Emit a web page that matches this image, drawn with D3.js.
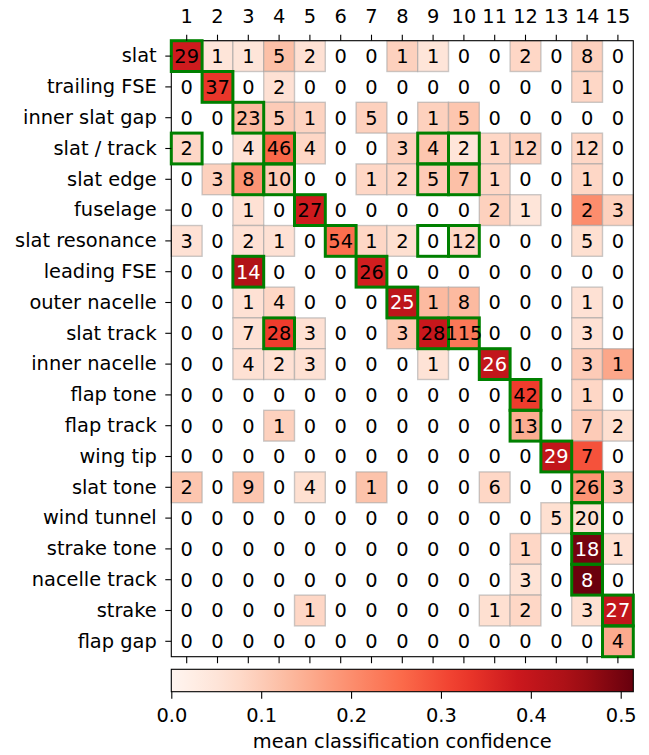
<!DOCTYPE html>
<html>
<head>
<meta charset="utf-8">
<script src="https://cdn.jsdelivr.net/npm/d3@7"></script>
<style>
  body { margin: 0; background: #fff; }
  svg { display: block; font-family: "DejaVu Sans", sans-serif; }
</style>
</head>
<body>
<svg id="chart" width="649" height="755"></svg>
<script>
var rowLabels = ["slat", "trailing FSE", "inner slat gap", "slat / track", "slat edge", "fuselage",
  "slat resonance", "leading FSE", "outer nacelle", "slat track", "inner nacelle", "flap tone",
  "flap track", "wing tip", "slat tone", "wind tunnel", "strake tone", "nacelle track", "strake", "flap gap"];
var colLabels = ["1","2","3","4","5","6","7","8","9","10","11","12","13","14","15"];

// counts shown in each cell
var counts = [
  [29,1,1,5,2,0,0,1,1,0,0,2,0,8,0],
  [0,37,0,2,0,0,0,0,0,0,0,0,0,1,0],
  [0,0,23,5,1,0,5,0,1,5,0,0,0,0,0],
  [2,0,4,46,4,0,0,3,4,2,1,12,0,12,0],
  [0,3,8,10,0,0,1,2,5,7,1,0,0,1,0],
  [0,0,1,0,27,0,0,0,0,0,2,1,0,2,3],
  [3,0,2,1,0,54,1,2,0,12,0,0,0,5,0],
  [0,0,14,0,0,0,26,0,0,0,0,0,0,0,0],
  [0,0,1,4,0,0,0,25,1,8,0,0,0,1,0],
  [0,0,7,28,3,0,0,3,28,115,0,0,0,3,0],
  [0,0,4,2,3,0,0,0,1,0,26,0,0,3,1],
  [0,0,0,0,0,0,0,0,0,0,0,42,0,1,0],
  [0,0,0,1,0,0,0,0,0,0,0,13,0,7,2],
  [0,0,0,0,0,0,0,0,0,0,0,0,29,7,0],
  [2,0,9,0,4,0,1,0,0,0,6,0,0,26,3],
  [0,0,0,0,0,0,0,0,0,0,0,0,5,20,0],
  [0,0,0,0,0,0,0,0,0,0,0,1,0,18,1],
  [0,0,0,0,0,0,0,0,0,0,0,3,0,8,0],
  [0,0,0,0,1,0,0,0,0,0,1,2,0,3,27],
  [0,0,0,0,0,0,0,0,0,0,0,0,0,0,4]
];

// mean classification confidence (colour)
var conf = [
  [0.38,0.05,0.05,0.12,0.06,0,0,0.09,0.05,0,0,0.08,0,0.09,0],
  [0,0.33,0,0.06,0,0,0,0,0,0,0,0,0,0.08,0],
  [0,0,0.13,0.10,0.085,0,0.09,0,0.09,0.11,0,0,0,0,0],
  [0.08,0,0.06,0.26,0.08,0,0,0.09,0.11,0.05,0.08,0.09,0,0.08,0],
  [0,0.09,0.19,0.10,0,0,0.08,0.08,0.10,0.12,0.08,0,0,0.08,0],
  [0,0,0.06,0,0.38,0,0,0,0,0,0.09,0.05,0,0.20,0.09],
  [0.06,0,0.06,0.06,0,0.25,0.08,0.065,0,0.08,0,0,0,0.065,0],
  [0,0,0.43,0,0,0,0.375,0,0,0,0,0,0,0,0],
  [0,0,0.06,0.08,0,0,0,0.41,0.13,0.13,0,0,0,0.06,0],
  [0,0,0.06,0.32,0.06,0,0,0.105,0.39,0.235,0,0,0,0.06,0],
  [0,0,0.06,0.06,0.06,0,0,0,0.055,0,0.40,0,0,0.10,0.16],
  [0,0,0,0,0,0,0,0,0,0,0,0.32,0,0.08,0],
  [0,0,0,0.09,0,0,0,0,0,0,0,0.15,0,0.10,0.065],
  [0,0,0,0,0,0,0,0,0,0,0,0,0.40,0.29,0],
  [0.11,0,0.11,0,0.065,0,0.115,0,0,0,0.08,0,0,0.19,0.10],
  [0,0,0,0,0,0,0,0,0,0,0,0,0.065,0.065,0],
  [0,0,0,0,0,0,0,0,0,0,0,0.08,0,0.50,0.06],
  [0,0,0,0,0,0,0,0,0,0,0,0.055,0,0.51,0],
  [0,0,0,0,0.08,0,0,0,0,0,0.065,0.08,0,0.065,0.40],
  [0,0,0,0,0,0,0,0,0,0,0,0,0,0,0.155]
];

// highlighted cells [row, col] (0-based)
var highlights = [
  [0,0],[1,1],[2,2],[3,0],[3,3],[3,8],[3,9],[4,2],[4,3],[4,8],[4,9],
  [5,4],[6,5],[6,8],[6,9],[7,2],[7,6],[8,7],[9,3],[9,8],[9,9],[10,10],
  [11,11],[12,11],[13,12],[14,13],[15,13],[16,13],[17,13],[18,14],[19,14]
];

var cbTicks = [0, 0.1, 0.2, 0.3, 0.4, 0.5];
var confMax = 0.514;

var svg = d3.select("#chart");
var fs = "19.4px";

var margin = {left: 171.3, top: 40.7};
var cell = 30.8;
var W = cell * colLabels.length, H = cell * rowLabels.length;

var x = d3.scaleBand().domain(d3.range(colLabels.length)).range([margin.left, margin.left + W]);
var y = d3.scaleBand().domain(d3.range(rowLabels.length)).range([margin.top, margin.top + H]);

var redsStops = ["#fff5f0","#fee0d2","#fcbba1","#fc9272","#fb6a4a","#ef3b2c","#cb181d","#a50f15","#67000d"];
var reds = d3.piecewise(d3.interpolateRgb, redsStops);
var color = d3.scaleSequential(reds).domain([0, confMax]);

var cells = [];
counts.forEach(function(row, i) {
  row.forEach(function(c, j) {
    cells.push({r: i, c: j, n: c, v: conf[i][j]});
  });
});

// coloured cells (zero counts stay white)
svg.append("g")
  .selectAll("rect")
  .data(cells.filter(function(d) { return d.n > 0; }))
  .enter().append("rect")
  .attr("x", function(d) { return x(d.c); })
  .attr("y", function(d) { return y(d.r); })
  .attr("width", x.bandwidth())
  .attr("height", y.bandwidth())
  .attr("fill", function(d) { return color(d.v); })
  .attr("stroke", "#a0a0a0")
  .attr("stroke-opacity", 0.55)
  .attr("stroke-width", 1.4);

// frame
svg.append("rect")
  .attr("x", margin.left).attr("y", margin.top)
  .attr("width", W).attr("height", H)
  .attr("fill", "none").attr("stroke", "#000").attr("stroke-width", 1.1);

// green boxes
svg.append("g")
  .selectAll("rect")
  .data(highlights)
  .enter().append("rect")
  .attr("x", function(d) { return x(d[1]); })
  .attr("y", function(d) { return y(d[0]); })
  .attr("width", x.bandwidth())
  .attr("height", y.bandwidth())
  .attr("fill", "none")
  .attr("stroke", "#008000")
  .attr("stroke-width", 3);

// numbers
svg.append("g")
  .selectAll("text")
  .data(cells)
  .enter().append("text")
  .attr("x", function(d) { return x(d.c) + x.bandwidth() / 2; })
  .attr("y", function(d) { return y(d.r) + y.bandwidth() / 2; })
  .attr("dy", "0.36em")
  .attr("text-anchor", "middle")
  .attr("font-size", fs)
  .attr("fill", function(d) { return d.v > 0.395 ? "#fff" : "#000"; })
  .text(function(d) { return d.n; });

// axes
var xTop = svg.append("g")
  .attr("transform", "translate(0," + margin.top + ")")
  .call(d3.axisTop(x).tickSize(6).tickPadding(11.4).tickFormat(function(i) { return colLabels[i]; }));
var xBot = svg.append("g")
  .attr("transform", "translate(0," + (margin.top + H) + ")")
  .call(d3.axisBottom(x).tickSize(6.5).tickFormat(""));
var yLeft = svg.append("g")
  .attr("transform", "translate(" + margin.left + ",0)")
  .call(d3.axisLeft(y).tickSize(6).tickPadding(8.6).tickFormat(function(i) { return rowLabels[i]; }));

[xTop, xBot, yLeft].forEach(function(g) {
  g.select(".domain").remove();
  g.selectAll(".tick line").attr("stroke", "#000").attr("stroke-width", 1.1);
  g.selectAll(".tick text").attr("font-size", fs).attr("font-family", "DejaVu Sans").attr("fill", "#000");
});

// colorbar
var cbY = 669.3, cbH = 22.4;
var cbScale = d3.scaleLinear().domain([0, confMax]).range([margin.left, margin.left + W]);

var grad = svg.append("defs").append("linearGradient")
  .attr("id", "cbgrad").attr("x1", "0%").attr("x2", "100%");
grad.selectAll("stop")
  .data(d3.range(0, 1.0001, 0.05))
  .enter().append("stop")
  .attr("offset", function(t) { return (t * 100) + "%"; })
  .attr("stop-color", function(t) { return reds(t); });

svg.append("rect")
  .attr("x", margin.left).attr("y", cbY)
  .attr("width", W).attr("height", cbH)
  .attr("fill", "url(#cbgrad)")
  .attr("stroke", "#000").attr("stroke-width", 1.1);

var cbAxis = svg.append("g")
  .attr("transform", "translate(0," + (cbY + cbH) + ")")
  .call(d3.axisBottom(cbScale).tickValues(cbTicks).tickSize(7).tickPadding(10).tickFormat(d3.format(".1f")));
cbAxis.select(".domain").remove();
cbAxis.selectAll(".tick line").attr("stroke", "#000").attr("stroke-width", 1.1);
cbAxis.selectAll(".tick text").attr("font-size", fs).attr("font-family", "DejaVu Sans").attr("fill", "#000");

svg.append("text")
  .attr("x", margin.left + W / 2)
  .attr("y", 748)
  .attr("text-anchor", "middle")
  .attr("font-size", fs)
  .text("mean classification confidence");
</script>
</body>
</html>
